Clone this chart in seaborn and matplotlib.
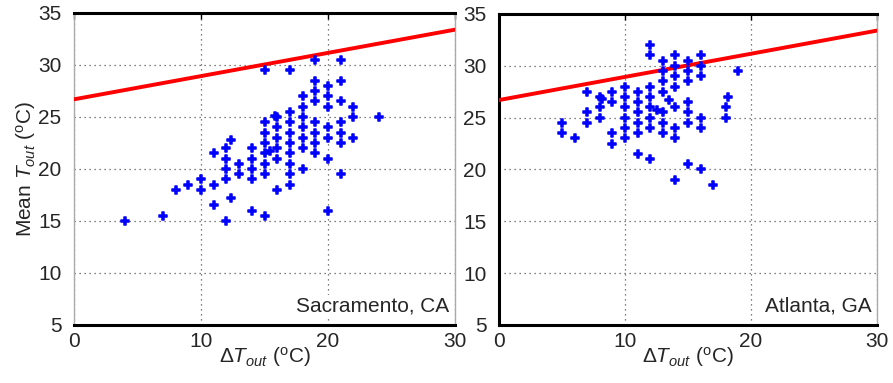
import matplotlib
matplotlib.use("Agg")
import matplotlib.pyplot as plt
import seaborn as sns
import pandas as pd

# ---- data ----
sac_x = [4, 7, 8, 9, 10, 10, 11, 11, 11,
         12, 12, 12, 12, 12, 12.4, 12.4,
         13, 13,
         14, 14, 14, 14, 14,
         15, 15, 15, 15, 15, 15, 15, 15, 15.4,
         15.8, 16, 16, 16, 16, 16, 16,
         17, 17, 17, 17, 17, 17, 17, 17, 17,
         18, 18, 18, 18, 18, 18, 18,
         19, 19, 19, 19, 19, 19, 19, 19,
         20, 20, 20, 20, 20, 20, 20,
         21, 21, 21, 21, 21, 21, 21,
         22, 22, 22, 24]
sac_y = [15, 15.5, 18, 18.5, 19, 18, 21.5, 18.5, 16.5,
         22, 21, 20, 19, 15, 22.8, 17.2,
         20.5, 19.5,
         22, 21, 20, 19, 16,
         29.5, 24.5, 23.5, 22.5, 21.5, 20.5, 19.5, 15.5, 21.7,
         25.1, 25, 24, 23, 22, 21, 18,
         29.5, 25.5, 24.5, 23.5, 22.5, 21.5, 20.5, 19.5, 18.5,
         27, 26, 25, 24, 23, 22, 20,
         30.5, 28.5, 27.5, 26.5, 24.5, 23.5, 22.5, 21.5,
         28, 27, 26, 24, 23, 21, 16,
         30.5, 28.5, 26.5, 24.5, 23.5, 22.5, 19.5,
         26, 25, 23, 25]

atl_x = [5, 5, 6, 7, 7, 7, 8, 8, 8, 8.2,
         9, 9, 9, 9,
         10, 10, 10, 10, 10, 10,
         11, 11, 11, 11, 11, 11,
         12, 12, 12, 12, 12, 12, 12, 12, 12.5,
         13, 13, 13, 13, 13, 13, 13, 13.5,
         14, 14, 14, 14, 14, 14, 14, 14,
         15, 15, 15, 15, 15, 15, 15,
         16, 16, 16, 16, 16, 16,
         17, 18, 18, 18.2, 19]
atl_y = [24.5, 23.5, 23, 27.5, 25.5, 24.5, 27, 26, 25, 26.8,
         27.5, 26.5, 23.5, 22.5,
         28, 27, 26, 25, 24, 23,
         27.5, 26.5, 25.5, 24.5, 23.5, 21.5,
         32, 31, 28, 27, 26, 25, 24, 21, 25.7,
         30.5, 29.5, 28.5, 27.5, 25.5, 24.5, 23.5, 26.7,
         31, 30, 29, 28, 26, 24, 23, 19,
         30.5, 29.5, 28.5, 26.5, 25.5, 24.5, 20.5,
         31, 30, 29, 25, 24, 20,
         18.5, 26, 25, 27, 29.5]

line_x = [0, 30]
line_y = [26.7, 33.4]

panels = [("Sacramento, CA", sac_x, sac_y), ("Atlanta, GA", atl_x, atl_y)]
x_ticks = [0, 10, 20, 30]
y_ticks = [5, 10, 15, 20, 25, 30, 35]

# ---- style ----
sns.set_style("white")
plt.rcParams["font.family"] = ["Liberation Sans", "DejaVu Sans"]
plt.rcParams["mathtext.fontset"] = "custom"
plt.rcParams["mathtext.rm"] = "Liberation Sans"
plt.rcParams["mathtext.it"] = "Liberation Sans:italic"
plt.rcParams["mathtext.bf"] = "Liberation Sans:bold"

fig = plt.figure(figsize=(8.93, 3.83), dpi=100)
ax_l = fig.add_axes([74 / 893, 1 - 325 / 383, (455 - 74) / 893, (325 - 13) / 383])
ax_r = fig.add_axes([499 / 893, 1 - 325 / 383, (877 - 499) / 893, (325 - 14) / 383])

for i, (ax, (name, xs, ys)) in enumerate(zip([ax_l, ax_r], panels)):
    df = pd.DataFrame({"x": xs, "y": ys})
    ldf = pd.DataFrame({"x": line_x, "y": line_y})
    sns.lineplot(data=ldf, x="x", y="y", ax=ax, color="#ff0000", lw=2.8, zorder=3)
    sns.scatterplot(data=df, x="x", y="y", ax=ax, marker="P", s=26,
                    color="#0000ff", edgecolor="#0000ff", linewidth=1.1, zorder=4)
    ax.set_xlim(0, 30)
    ax.set_ylim(5, 35)
    ax.set_xticks(x_ticks)
    ax.set_yticks(y_ticks)
    ax.grid(True, color="#555555", linestyle=(0, (1, 3)), linewidth=0.9)
    ax.set_axisbelow(True)
    ax.tick_params(direction="in", length=4, width=1, labelsize=15,
                   top=True, right=False, color="black")
    ax.tick_params(axis="y", pad=9)
    ax.tick_params(axis="x", pad=5)
    ax.set_xlabel(r"$\Delta T_{out}$ ($^{\rm o}$C)", fontsize=15, labelpad=-4)
    if i == 0:
        ax.set_ylabel(r"Mean $T_{out}$ ($^{\rm o}$C)", fontsize=15, labelpad=0)
    else:
        ax.set_ylabel("")
    ax.text(0.985, 0.03, name, transform=ax.transAxes, ha="right", va="bottom",
            fontsize=15, zorder=5,
            bbox=dict(facecolor="white", edgecolor="none", pad=1.5))
    for side in ["top", "bottom"]:
        ax.spines[side].set_color("black")
        ax.spines[side].set_linewidth(2.2)
    ax.spines["right"].set_color("#aaaaaa")
    ax.spines["right"].set_linewidth(1)
    if i == 0:
        ax.spines["left"].set_color("#aaaaaa")
        ax.spines["left"].set_linewidth(1)
    else:
        ax.spines["left"].set_color("black")
        ax.spines["left"].set_linewidth(2.2)

fig.savefig("out.png", dpi=100)
